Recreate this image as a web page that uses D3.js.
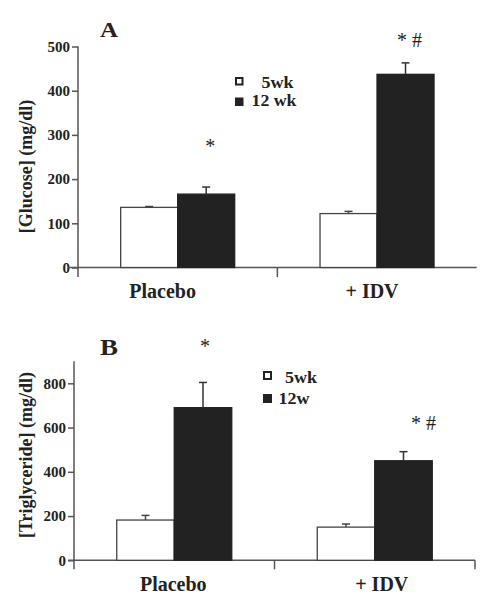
<!DOCTYPE html>
<html>
<head>
<meta charset="utf-8">
<script src="https://cdn.jsdelivr.net/npm/d3@7"></script>
<style>
  html, body { margin: 0; padding: 0; background: #fff; }
  svg { display: block; }
  text { font-family: "Liberation Serif", "Times New Roman", serif; }
</style>
</head>
<body>
<svg id="chart" width="494" height="599"></svg>
<script>
// ---------- data ----------
const categories = ["Placebo", "+ IDV"];
const seriesA = ["5wk", "12 wk"];
const seriesB = ["5wk", "12w"];

const glucose5wk = [136, 122];
const glucose5wkErr = [2, 5];
const glucose12wk = [166, 437];
const glucose12wkErr = [16, 26];
const glucoseTicks = [0, 100, 200, 300, 400, 500];
const glucoseMarks = ["*", "* #"];
const glucoseMarkY = [258, 500];

const trig5wk = [182, 150];
const trig5wkErr = [21, 14];
const trig12w = [690, 450];
const trig12wErr = [114, 41];
const trigTicks = [0, 200, 400, 600, 800];
const trigMarks = ["*", "* #"];
const trigMarkY = [939, 590];

// ---------- drawing ----------
const svg = d3.select("#chart");
const AX = "#555";

function panel(cfg) {
  const g = svg.append("g");
  const y = d3.scaleLinear().domain(cfg.domain).range([cfg.y0, cfg.yTop]);
  const x = d3.scaleBand().domain(categories).range([cfg.xLeft, cfg.xRight]).padding(0);

  // y axis
  const yAxis = d3.axisLeft(y).tickValues(cfg.ticks).tickSize(6).tickSizeOuter(0).tickPadding(2);
  const ya = g.append("g").attr("transform", `translate(${cfg.xLeft},0)`).call(yAxis);
  ya.select(".domain").remove();
  ya.selectAll(".tick line").attr("stroke", AX).attr("stroke-width", 1.5);
  ya.selectAll(".tick text")
    .attr("font-size", 15).attr("font-weight", "bold").attr("fill", "#222")
    .style("font-family", '"Liberation Serif", serif');
  g.append("line")
    .attr("x1", cfg.xLeft).attr("x2", cfg.xLeft)
    .attr("y1", y(cfg.domain[1])).attr("y2", y(0) + cfg.ext)
    .attr("stroke", AX).attr("stroke-width", 1.5);

  // x baseline
  g.append("line")
    .attr("x1", cfg.baseLeft).attr("x2", cfg.xRight)
    .attr("y1", y(0)).attr("y2", y(0))
    .attr("stroke", AX).attr("stroke-width", 1.5);
  const tickXs = categories.slice(1).map(c => x(c));
  if (cfg.endTick) tickXs.push(cfg.xRight);
  g.selectAll(".xt").data(tickXs).enter().append("line")
    .attr("x1", d => d).attr("x2", d => d)
    .attr("y1", y(0)).attr("y2", y(0) + cfg.ext)
    .attr("stroke", AX).attr("stroke-width", 1.5);

  // bars
  const rows = categories.map((c, i) => ({ c, i }));
  rows.forEach(r => {
    const cx = x(r.c) + x.bandwidth() / 2;
    const inner = d3.scaleBand().domain(cfg.series).range([cx - cfg.bw, cx + cfg.bw]).padding(0);
    const vals = [
      { s: cfg.series[0], v: cfg.v1[r.i], e: cfg.e1[r.i], fill: "#fff", stroke: "#444" },
      { s: cfg.series[1], v: cfg.v2[r.i], e: cfg.e2[r.i], fill: "#222", stroke: "#222" }
    ];
    vals.forEach(d => {
      const bx = inner(d.s), w = inner.bandwidth();
      g.append("rect")
        .attr("x", bx).attr("y", y(d.v))
        .attr("width", w).attr("height", y(0) - y(d.v))
        .attr("fill", d.fill).attr("stroke", d.stroke).attr("stroke-width", 1.3);
      const mx = bx + w / 2;
      const ec = d.fill === "#fff" ? "#444" : "#333";
      g.append("line").attr("x1", mx).attr("x2", mx)
        .attr("y1", y(d.v)).attr("y2", y(d.v + d.e))
        .attr("stroke", ec).attr("stroke-width", 1.5);
      g.append("line").attr("x1", mx - 4).attr("x2", mx + 4)
        .attr("y1", y(d.v + d.e)).attr("y2", y(d.v + d.e))
        .attr("stroke", ec).attr("stroke-width", 1.5);
    });
    // significance marks
    g.append("text")
      .attr("x", inner(cfg.series[1]) + inner.bandwidth() / 2 + cfg.markDx[r.i])
      .attr("y", y(cfg.markY[r.i]))
      .attr("text-anchor", "middle")
      .attr("font-size", 20).attr("fill", "#222")
      .text(cfg.marks[r.i]);
    // category label
    g.append("text")
      .attr("x", cx + cfg.labelDx[r.i])
      .attr("y", cfg.labelY)
      .attr("text-anchor", "middle")
      .attr("font-size", 20).attr("font-weight", "bold").attr("fill", "#222")
      .text(r.c);
  });

  // y title
  g.append("text")
    .attr("transform", `translate(31.5,${cfg.titleY}) rotate(-90)`)
    .attr("text-anchor", "middle")
    .attr("font-size", 18).attr("font-weight", "bold").attr("fill", "#222")
    .text(cfg.title);

  // panel letter
  g.append("text")
    .attr("x", 100).attr("y", cfg.letterY)
    .attr("font-size", cfg.letterSize).attr("font-weight", "bold").attr("fill", "#222")
    .attr("textLength", 18).attr("lengthAdjust", "spacingAndGlyphs")
    .text(cfg.letter);

  // legend
  const L = cfg.legend;
  g.append("rect").attr("x", L.x + 1).attr("y", L.y1 + 1).attr("width", L.s - 2).attr("height", L.s - 2)
    .attr("fill", "#fff").attr("stroke", "#222").attr("stroke-width", 2);
  g.append("rect").attr("x", L.x).attr("y", L.y2).attr("width", L.s).attr("height", L.s)
    .attr("fill", "#222");
  g.append("text").attr("x", L.t1x).attr("y", L.b1)
    .attr("font-size", L.fs).attr("font-weight", "bold").attr("fill", "#222")
    .attr("textLength", L.w1).attr("lengthAdjust", "spacingAndGlyphs")
    .text(cfg.series[0]);
  g.append("text").attr("x", L.t2x).attr("y", L.b2)
    .attr("font-size", L.fs).attr("font-weight", "bold").attr("fill", "#222")
    .attr("textLength", L.w2).attr("lengthAdjust", "spacingAndGlyphs")
    .text(cfg.series[1]);
}

panel({
  domain: [0, 500], ticks: glucoseTicks, y0: 267.5, yTop: 46.5,
  xLeft: 78, xRight: 476.7, baseLeft: 68, ext: 9.5, endTick: false, bw: 57,
  series: seriesA, v1: glucose5wk, e1: glucose5wkErr, v2: glucose12wk, e2: glucose12wkErr,
  marks: glucoseMarks, markY: glucoseMarkY, markDx: [4, 4],
  labelDx: [-15, -5], labelY: 298,
  title: "[Glucose] (mg/dl)", titleY: 166.5,
  letter: "A", letterY: 36.7, letterSize: 21,
  legend: { x: 235, y1: 77, y2: 97.5, s: 8.5, t1x: 261.5, t2x: 251.5,
            b1: 87.5, b2: 106, fs: 16, w1: 32, w2: 45 }
});

panel({
  domain: [0, 900], ticks: trigTicks, y0: 560.3, yTop: 361.2,
  xLeft: 74, xRight: 475, baseLeft: 68, ext: 9, endTick: true, bw: 57.5,
  series: seriesB, v1: trig5wk, e1: trig5wkErr, v2: trig12w, e2: trig12wErr,
  marks: trigMarks, markY: trigMarkY, markDx: [2, 20],
  labelDx: [-1, 7], labelY: 591,
  title: "[Triglyceride] (mg/dl)", titleY: 455,
  letter: "B", letterY: 355, letterSize: 23,
  legend: { x: 263, y1: 371, y2: 394, s: 9, t1x: 285, t2x: 278.5,
            b1: 382.5, b2: 404, fs: 17, w1: 32, w2: 31 }
});
</script>
</body>
</html>
